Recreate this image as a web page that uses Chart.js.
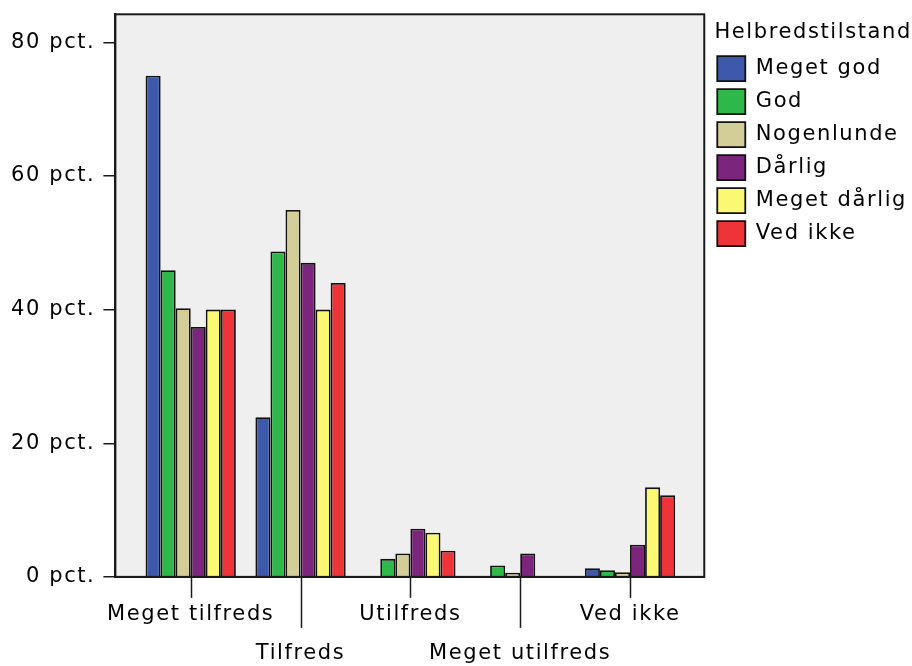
<!DOCTYPE html>
<html>
<head>
<meta charset="utf-8">
<script src="https://cdn.jsdelivr.net/npm/chart.js@4.4.0/dist/chart.umd.min.js"></script>
<style>
  html, body { margin: 0; padding: 0; background: #fff; }
</style>
</head>
<body>
<canvas id="satisfactionChart" width="912" height="666"></canvas>
<script>
// categories on the x axis and the health groups (one series each)
const categories = ["Meget tilfreds", "Tilfreds", "Utilfreds", "Meget utilfreds", "Ved ikke"];
const healthLevels = ["Meget god", "God", "Nogenlunde", "Dårlig", "Meget dårlig", "Ved ikke"];
const levelColors = ["#3e58ab", "#2eb84a", "#d3ce98", "#7b267c", "#fbf874", "#ee3339"];

// percent values
const megetGod     = [75.0, 23.9, 0.0, 0.0, 1.3];
const god          = [45.9, 48.7, 2.7, 1.7, 1.0];
const nogenlunde   = [40.2, 54.9, 3.5, 0.6, 0.7];
const daarlig      = [37.4, 47.0, 7.2, 3.5, 4.8];
const megetDaarlig = [40.0, 40.0, 6.6, 0.0, 13.4];
const vedIkke      = [40.0, 44.0, 3.9, 0.0, 12.2];

const yTicks = [0, 20, 40, 60, 80];

const seriesValues = [megetGod, god, nogenlunde, daarlig, megetDaarlig, vedIkke];
const FONT = { family: "DejaVu Sans", size: 21 };

const datasets = healthLevels.map((name, k) => ({
    label: name,
    data: seriesValues[k].map((v, i) => ({ x: i, y: v })),
    backgroundColor: levelColors[k],
    borderColor: "#111",
    borderWidth: 1.8,
    categoryPercentage: 0.822,
    barPercentage: 1.0
}));

// grey plot panel with a frame, plus x tick marks of two lengths
const panel = {
    id: "panel",
    beforeUpdate(chart) {
        chart.ctx.letterSpacing = "1.6px";
    },
    afterLayout(chart) {
        // nudge the legend a little to the right, as in the original
        chart.legend.left += 5;
        chart.legend.right += 5;
    },
    beforeDatasetsDraw(chart) {
        const { ctx, chartArea: a } = chart;
        ctx.save();
        ctx.fillStyle = "#efefef";
        ctx.fillRect(a.left, a.top, a.right - a.left, a.bottom - a.top);
        ctx.restore();
    },
    afterDraw(chart) {
        const { ctx, chartArea: a, scales } = chart;
        ctx.save();
        ctx.strokeStyle = "#1a1a1a";
        ctx.lineWidth = 2;
        ctx.strokeRect(a.left, a.top, a.right - a.left, a.bottom - a.top);
        ctx.lineWidth = 1.5;
        categories.forEach((c, i) => {
            const x = Math.round(scales.x.getPixelForValue(i)) + 0.5;
            ctx.beginPath();
            ctx.moveTo(x, a.bottom);
            ctx.lineTo(x, a.bottom + (i % 2 ? 51 : 21));
            ctx.stroke();
        });
        ctx.restore();
    }
};

new Chart(document.getElementById("satisfactionChart"), {
    type: "bar",
    data: { datasets },
    plugins: [panel],
    options: {
        responsive: false,
        devicePixelRatio: 1,
        animation: false,
        layout: { padding: { left: 3, top: 10, right: 0, bottom: -17 } },
        plugins: {
            tooltip: { enabled: false },
            legend: {
                position: "right",
                align: "start",
                title: {
                    display: true,
                    text: "Helbredstilstand",
                    color: "#000",
                    font: FONT,
                    padding: { top: 12, bottom: 1 }
                },
                labels: {
                    color: "#000",
                    font: FONT,
                    boxWidth: 28,
                    boxHeight: 25,
                    padding: 8
                }
            }
        },
        scales: {
            x: {
                type: "linear",
                offset: false,
                min: -0.686,
                max: 4.676,
                afterBuildTicks: s => { s.ticks = categories.map((c, i) => ({ value: i })); },
                grid: { display: false },
                border: { color: "#1a1a1a", width: 2 },
                ticks: {
                    color: "#000",
                    font: { ...FONT, lineHeight: 1.86 },
                    padding: 10,
                    maxRotation: 0,
                    autoSkip: false,
                    callback: v => (v % 2 ? ["", categories[v]] : categories[v])
                }
            },
            y: {
                min: 0,
                max: 84.2,
                afterBuildTicks: s => { s.ticks = yTicks.map(v => ({ value: v })); },
                grid: { drawOnChartArea: false, tickLength: 12, color: "#1a1a1a", lineWidth: 1.5 },
                border: { color: "#1a1a1a", width: 2 },
                ticks: {
                    color: "#000",
                    font: { ...FONT, lineHeight: 0.6 },
                    padding: 8,
                    callback: v => v + " pct."
                }
            }
        }
    }
});
</script>
</body>
</html>
